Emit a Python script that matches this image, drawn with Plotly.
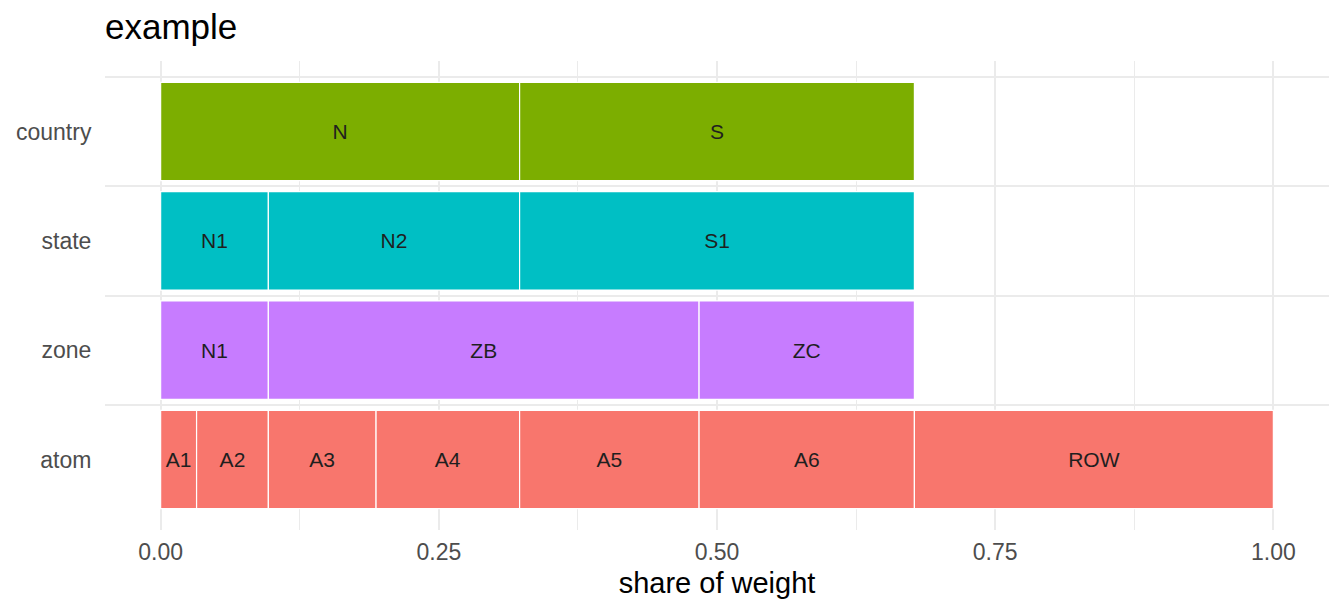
import numpy as np
import plotly.graph_objects as go

# hierarchy levels, bottom to top
levels = ["atom", "zone", "state", "country"]

atom_labels = ["A1", "A2", "A3", "A4", "A5", "A6", "ROW"]
atom_share = [0.0323, 0.0645, 0.0968, 0.1290, 0.1613, 0.1935, 0.3226]

zone_labels = ["N1", "ZB", "ZC"]
zone_share = [0.0968, 0.3871, 0.1935]

state_labels = ["N1", "N2", "S1"]
state_share = [0.0968, 0.2258, 0.3548]

country_labels = ["N", "S"]
country_share = [0.3226, 0.3548]

x_ticks = [0, 0.25, 0.5, 0.75, 1.0]
x_ticktext = ["0.00", "0.25", "0.50", "0.75", "1.00"]

colors = {"atom": "#F8766D", "zone": "#C77CFF", "state": "#00BFC4", "country": "#7CAE00"}

rows = {
    "atom": (atom_labels, atom_share),
    "zone": (zone_labels, zone_share),
    "state": (state_labels, state_share),
    "country": (country_labels, country_share),
}

FONT = "Liberation Sans, Arial, sans-serif"

fig = go.Figure()
for i, lev in enumerate(levels):
    labels, share = rows[lev]
    base = np.concatenate([[0], np.cumsum(share)[:-1]])
    fig.add_trace(go.Bar(
        x=share,
        base=base,
        y=[i + 1] * len(share),
        orientation="h",
        width=0.9,
        text=labels,
        textposition="inside",
        insidetextanchor="middle",
        textangle=0,
        constraintext="none",
        textfont=dict(family=FONT, size=21, color="#1f1f1f"),
        marker=dict(color=colors[lev], line=dict(color="white", width=1.2)),
        showlegend=False,
        name=lev,
    ))

fig.update_layout(
    width=1344,
    height=614,
    barmode="overlay",
    plot_bgcolor="white",
    paper_bgcolor="white",
    margin=dict(l=105, r=15, t=61, b=84, autoexpand=False),
    font=dict(family=FONT),
    title=dict(
        text="example",
        font=dict(family=FONT, size=35, color="black"),
        xref="container", x=105 / 1344, xanchor="left",
        yref="container", y=1 - 27 / 614, yanchor="middle",
    ),
)

fig.update_xaxes(
    range=[-0.05, 1.05],
    tickvals=x_ticks,
    ticktext=x_ticktext,
    tickfont=dict(family=FONT, size=23, color="#4D4D4D"),
    ticks="outside", ticklen=1, tickcolor="rgba(0,0,0,0)",
    showgrid=True, gridcolor="#EBEBEB", gridwidth=2,
    minor=dict(tickmode="array", tickvals=[0.125, 0.375, 0.625, 0.875],
               showgrid=True, gridcolor="#EBEBEB", gridwidth=1, ticks=""),
    zeroline=False, showline=False,
    title=dict(text="share of weight", font=dict(family=FONT, size=29, color="black"), standoff=9),
)

fig.update_yaxes(
    range=[0.355, 4.645],
    tickvals=[1, 2, 3, 4],
    ticktext=levels,
    tickfont=dict(family=FONT, size=23, color="#4D4D4D"),
    ticks="outside", ticklen=8, tickcolor="rgba(0,0,0,0)",
    showgrid=False,
    minor=dict(tickmode="array", tickvals=[1.5, 2.5, 3.5, 4.5],
               showgrid=True, gridcolor="#EBEBEB", gridwidth=1.5, ticks=""),
    zeroline=False, showline=False,
)

# page body has a default 8px margin; drop it so the figure sits at the window origin
fig.write_html("out.html", config={"displayModeBar": False},
               post_script="document.body.style.margin='0';")
